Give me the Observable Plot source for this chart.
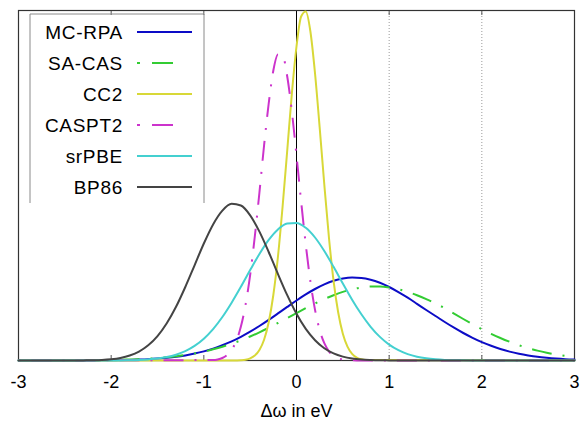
<!DOCTYPE html>
<html><head><meta charset="utf-8">
<script src="https://cdn.jsdelivr.net/npm/d3@7"></script>
<script src="https://cdn.jsdelivr.net/npm/@observablehq/plot@0.6"></script>
<style>
body{margin:0;background:#fff;}
#wrap{position:relative;width:584px;height:421px;}
#wrap svg{font-family:"Liberation Sans",Arial,sans-serif;}
#legend{position:absolute;left:0;top:0;pointer-events:none;}
</style></head><body><div id="wrap"></div>
<script>
// ---- series meta ----
const seriesNames  = ["MC-RPA", "SA-CAS", "CC2", "CASPT2", "srPBE", "BP86"];
const seriesColors = ["#0c0cc6", "#33cc33", "#d8d838", "#cc33cc", "#44d0d0", "#444444"];
const seriesDash   = [null, "2,11,20,11", null, "2,11,20,11", null, null];
const legendDash   = [null, "3,12,21,40", null, "3,12,21,40", null, null];

// ---- axis ----
const xTicks = [-3, -2, -1, 0, 1, 2, 3];
const innerTicks = [-2, -1, 1, 2];
const gridXs = [1, 2];
const zeroLineX = [0];
const xLabel = "Δω in eV";

// ---- sample positions (eV) ----
const xCoarse = [-3.0,-2.9,-2.8,-2.7,-2.6,-2.5,-2.4,-2.3,-2.2,-2.1,
  -2.0,-1.9,-1.8,-1.7,-1.6,-1.5,-1.4,-1.3,-1.2,-1.1,
  -1.0,-0.9,-0.8,-0.7,-0.6,-0.5,-0.4,-0.3,-0.2,-0.1,
  0.0,0.1,0.2,0.3,0.4,0.5,0.6,0.7,0.8,0.9,
  1.0,1.1,1.2,1.3,1.4,1.5,1.6,1.7,1.8,1.9,
  2.0,2.1,2.2,2.3,2.4,2.5,2.6,2.7,2.8,2.9,
  3.0];
const xFine = [-3.0,
  -0.90,-0.85,-0.80,-0.75,-0.70,-0.65,-0.60,-0.55,-0.50,-0.45,
  -0.40,-0.35,-0.30,-0.25,-0.20,-0.15,-0.10,-0.05,0.00,0.05,
  0.10,0.15,0.20,0.25,0.30,0.35,0.40,0.45,0.50,0.55,
  0.60,0.65,0.70,0.75,
  3.0];

// ---- series values (arbitrary units) ----
const mcrpa = [0,0,0,0,0,0,0.001,0.001,0.001,0.002,
  0.003,0.004,0.006,0.009,0.013,0.019,0.027,0.037,0.051,0.069,
  0.091,0.118,0.152,0.191,0.237,0.288,0.345,0.406,0.471,0.536,
  0.600,0.661,0.715,0.761,0.797,0.820,0.830,0.826,0.808,0.777,
  0.735,0.684,0.628,0.567,0.505,0.445,0.385,0.328,0.275,0.227,
  0.184,0.147,0.115,0.089,0.068,0.051,0.037,0.027,0.019,0.013,
  0.009];
const sacas = [0,0,0,0,0.001,0.001,0.001,0.002,0.002,0.003,
  0.005,0.007,0.010,0.013,0.018,0.024,0.032,0.043,0.055,0.071,
  0.089,0.112,0.138,0.168,0.202,0.240,0.282,0.327,0.375,0.424,
  0.474,0.523,0.570,0.614,0.653,0.686,0.712,0.730,0.739,0.739,
  0.730,0.712,0.686,0.653,0.614,0.570,0.523,0.468,0.415,0.363,
  0.313,0.267,0.225,0.187,0.153,0.124,0.099,0.078,0.061,0.047,
  0.036];
const srpbe = [0,0,0,0,0,0,0,0,0,0,
  0.001,0.001,0.003,0.006,0.011,0.019,0.034,0.058,0.094,0.146,
  0.218,0.314,0.435,0.578,0.737,0.904,1.065,1.206,1.311,1.370,
  1.376,1.327,1.230,1.095,0.937,0.770,0.608,0.462,0.337,0.236,
  0.159,0.103,0.064,0.038,0.022,0.012,0.006,0.003,0.002,0.001,
  0,0,0,0,0,0,0,0,0,0,
  0];
const bp86 = [0,0,0,0,0,0,0,0.001,0.003,0.006,
  0.013,0.026,0.050,0.089,0.152,0.244,0.372,0.537,0.735,0.952,
  1.170,1.361,1.499,1.567,1.550,1.452,1.289,1.085,0.864,0.653,
  0.467,0.316,0.203,0.123,0.071,0.039,0.020,0.010,0.005,0.002,
  0.001,0,0,0,0,0,0,0,0,0,
  0,0,0,0,0,0,0,0,0,0,
  0];
const cc2 = [0,
  0,0,0,0,0,0.001,0.003,0.008,0.021,0.049,
  0.105,0.208,0.383,0.655,1.04,1.54,2.10,2.67,3.14,3.44,
  3.49,3.29,2.87,2.33,1.76,1.23,0.796,0.48,0.268,0.139,
  0.067,0.030,0.012,0.005,
  0];
const caspt2 = [0,
  0.005,0.011,0.025,0.053,0.105,0.195,0.339,0.556,0.856,1.24,
  1.68,2.15,2.57,2.90,3.06,3.05,2.84,2.49,2.05,1.59,
  1.16,0.79,0.506,0.305,0.173,0.092,0.046,0.022,0.010,0.004,
  0.002,0.001,0,0,
  0];

const seriesX = [xCoarse, xCoarse, xFine, xFine, xCoarse, xCoarse];
const seriesY = [mcrpa, sacas, cc2, caspt2, srpbe, bp86];

const rowsFor = (i) => seriesX[i].map((x, k) => ({x, y: seriesY[i][k]}));

const W = 584, H = 421;
const lineMarks = seriesNames.map((name, i) => Plot.line(rowsFor(i), {
  x: "x", y: "y", curve: "monotone-x",
  stroke: seriesColors[i], strokeWidth: 2,
  strokeDasharray: seriesDash[i] || undefined,
  strokeLinejoin: "round", strokeLinecap: seriesDash[i] ? "butt" : "round"
}));

const chart = Plot.plot({
  width: W, height: H,
  marginLeft: 18, marginRight: 10, marginTop: 10, marginBottom: 61,
  style: {fontFamily: "Liberation Sans, Arial, sans-serif", fontSize: "18px", color: "#000", background: "#fff"},
  x: {domain: [-3, 3]},
  y: {domain: [0, 3.5], axis: null},
  marks: [
    Plot.ruleX(gridXs, {stroke: "#9a9a9a", strokeDasharray: "1,2", strokeWidth: 1}),
    Plot.tickX(innerTicks, {stroke: "#555", insetTop: 345}),
    Plot.tickX(innerTicks, {stroke: "#555", insetBottom: 345}),
    Plot.ruleX(zeroLineX, {stroke: "#000", strokeWidth: 1}),
    Plot.frame({stroke: "#333", strokeWidth: 1.2}),
    ...lineMarks,
    Plot.axisX(xTicks, {
      tickSize: 0, tickPadding: 15, fontSize: 18,
      tickFormat: d => String(d),
      label: xLabel, labelAnchor: "center", labelArrow: "none", labelOffset: 56
    })
  ]
});
const wrap = document.getElementById("wrap");
wrap.appendChild(chart);

// ---- legend overlay ----
const lg = d3.select(wrap).append("svg").attr("id", "legend")
  .attr("width", W).attr("height", H);
lg.append("path").attr("d", "M30,203V14H204V203")
  .attr("fill", "none").attr("stroke", "#8a8a8a").attr("stroke-width", 1);
const rows = lg.selectAll("g.e").data(seriesNames).join("g")
  .attr("transform", (d, i) => `translate(0,${32 + i * 31})`);
rows.append("text").attr("x", 123).attr("y", 0).attr("dy", "0.36em")
  .attr("text-anchor", "end").attr("font-size", 19).attr("letter-spacing", 0.7)
  .attr("fill", "#000").text(d => d);
rows.append("line").attr("x1", 137).attr("x2", 192).attr("y1", 0).attr("y2", 0)
  .attr("stroke", (d, i) => seriesColors[i]).attr("stroke-width", 2)
  .attr("stroke-dasharray", (d, i) => legendDash[i] || null);
</script></body></html>
